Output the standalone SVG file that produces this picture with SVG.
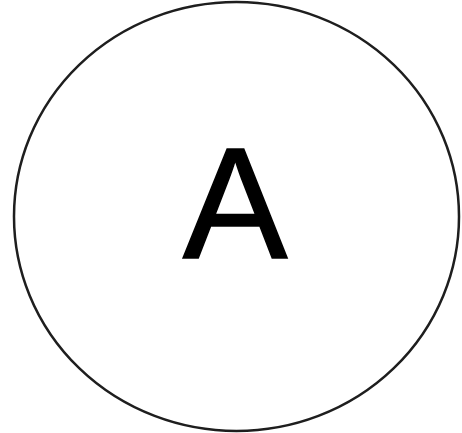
<svg xmlns="http://www.w3.org/2000/svg" width="462" height="433" viewBox="0 0 462 433">
<style>
.node-shape{fill:#ffffff;stroke:#1e1e1e;stroke-width:2.5}
.label{font-family:"Liberation Sans",Arial,sans-serif;font-size:157px;fill:#000000;stroke:#000000;stroke-width:1.5;text-anchor:middle}
</style>
<rect width="462" height="433" fill="#ffffff"/>
<g id="connectors"></g>
<g id="node-A">
<ellipse class="node-shape" cx="236.5" cy="216.5" rx="222.5" ry="214.5"/>
<text class="label" x="235" y="258">A</text>
</g>
</svg>
